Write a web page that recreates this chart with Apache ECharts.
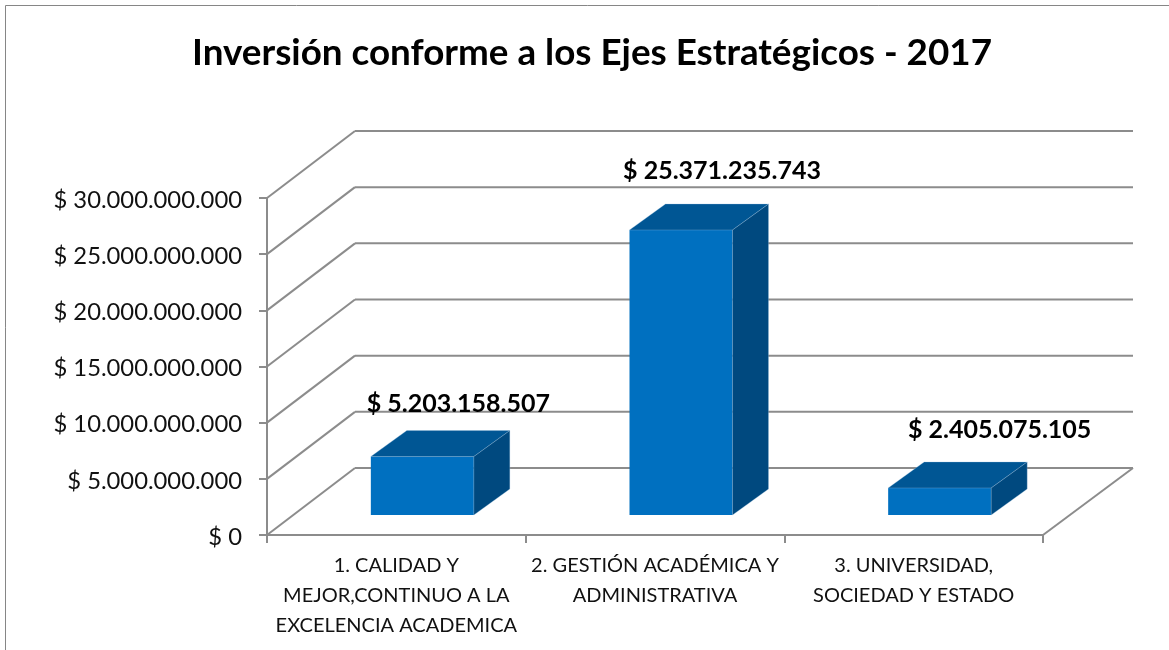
<!DOCTYPE html>
<html><head><meta charset="utf-8">
<style>html,body{margin:0;padding:0;background:#fff}#c{width:1169px;height:650px}</style>
<script src="https://cdn.jsdelivr.net/npm/echarts@6/dist/echarts.min.js"></script>
</head><body><div id="c"></div>
<script>
const titleText = 'Inversión conforme a los Ejes Estratégicos - 2017';
const categories = ['1. CALIDAD Y\nMEJOR,CONTINUO A LA\nEXCELENCIA ACADEMICA', '2. GESTIÓN ACADÉMICA Y\nADMINISTRATIVA', '3. UNIVERSIDAD,\nSOCIEDAD Y ESTADO'];
const values = [5203158507, 25371235743, 2405075105];
const valueLabels = ['$ 5.203.158.507', '$ 25.371.235.743', '$ 2.405.075.105'];
const yTicks = [0, 5000000000, 10000000000, 15000000000, 20000000000, 25000000000, 30000000000];
const yTickLabels = ['$ 0', '$ 5.000.000.000', '$ 10.000.000.000', '$ 15.000.000.000', '$ 20.000.000.000', '$ 25.000.000.000', '$ 30.000.000.000'];

// 3D projection styling (pixels)
const wallDX = 88, wallDY = -67, wallEndExtra = 2;
const barDX = 26, barDY = -20, barW = 103, capDX = 36, capDY = -26;
const labelShift = [[36, -53], [41, -59], [60, -58]];
const gridColor = '#8c8c8c', FONT = 'Lato';

const chart = echarts.init(document.getElementById('c'), null, {renderer: 'canvas'});

function line(x1, y1, x2, y2, w) {
  return {type: 'line', silent: true, shape: {x1, y1, x2, y2}, style: {stroke: gridColor, lineWidth: w || 2, fill: null}};
}
function poly(points, fill) {
  return {type: 'polygon', silent: true, shape: {points}, style: {fill, stroke: '#9cc3e0', lineWidth: 0.3}};
}

chart.setOption({
  animation: false,
  backgroundColor: '#fff',
  title: {text: titleText, left: 587, top: 30, textAlign: 'center',
    textStyle: {fontFamily: FONT, fontWeight: 'bold', fontSize: 36.8, color: '#000'}},
  grid: {left: 267, right: 126, top: 198, bottom: 115, containLabel: false},
  xAxis: {type: 'category', data: categories, boundaryGap: true,
    axisLine: {lineStyle: {color: gridColor, width: 2}},
    axisTick: {show: true, alignWithLabel: false, length: 8, lineStyle: {color: gridColor, width: 2}},
    axisLabel: {interval: 0, margin: 16, fontFamily: FONT, fontSize: 20, lineHeight: 30, color: '#111'}},
  yAxis: {type: 'value', min: 0, max: 30000000000, interval: 5000000000,
    axisLine: {show: true, lineStyle: {color: gridColor, width: 2}},
    axisTick: {show: true, length: 8, lineStyle: {color: gridColor, width: 2}},
    splitLine: {show: false},
    axisLabel: {margin: 25, fontFamily: FONT, fontSize: 23.8, color: '#111', verticalAlign: 'top', lineHeight: 4,
      formatter: v => yTickLabels[yTicks.indexOf(v)]}},
  graphic: [
    {type: 'line', silent: true, shape: {x1: 5.5, y1: 5.5, x2: 1169, y2: 5.5}, style: {stroke: '#868686', lineWidth: 1}},
    {type: 'line', silent: true, shape: {x1: 5.5, y1: 5.5, x2: 5.5, y2: 650}, style: {stroke: '#868686', lineWidth: 1}}
  ],
  series: [
    {type: 'custom', coordinateSystem: 'cartesian2d', z: 1, clip: false,
      encode: {x: 0, y: 1},
      data: yTicks.map(v => [0, v]),
      renderItem(params, api) {
        const r = params.coordSys, y = api.coord([0, api.value(1)])[1], x = r.x;
        const end = x + r.width + wallDX + wallEndExtra;
        const kids = [line(x, y, x + wallDX, y + wallDY), line(x + wallDX, y + wallDY, end, y + wallDY)];
        if (api.value(1) === 0) kids.push(line(x + r.width, y, end, y + wallDY));
        return {type: 'group', children: kids};
      }},
    {type: 'custom', coordinateSystem: 'cartesian2d', z: 3, clip: false,
      encode: {x: 0, y: 1},
      data: values.map((v, i) => [i, v]),
      renderItem(params, api) {
        const i = params.dataIndex;
        const top = api.coord([i, api.value(1)]), base = api.coord([i, 0]);
        const l = top[0] - barW / 2 + barDX, rr = l + barW;
        const t = top[1] + barDY, b = base[1] + barDY;
        return {type: 'group', children: [
          {type: 'rect', silent: true, shape: {x: l, y: t, width: barW, height: b - t}, style: {fill: '#0070c0'}},
          poly([[l, t], [l + capDX, t + capDY], [rr + capDX, t + capDY], [rr, t]], '#005694'),
          poly([[rr, t], [rr + capDX, t + capDY], [rr + capDX, b + capDY], [rr, b]], '#00497f'),
          {type: 'text', silent: true, x: top[0] + barDX + labelShift[i][0], y: t + labelShift[i][1],
            style: {text: valueLabels[i], align: 'center', verticalAlign: 'middle', fontFamily: FONT, fontWeight: 'bold', fontSize: 25, fill: '#000'}}
        ]};
      }}
  ]
});
</script></body></html>
